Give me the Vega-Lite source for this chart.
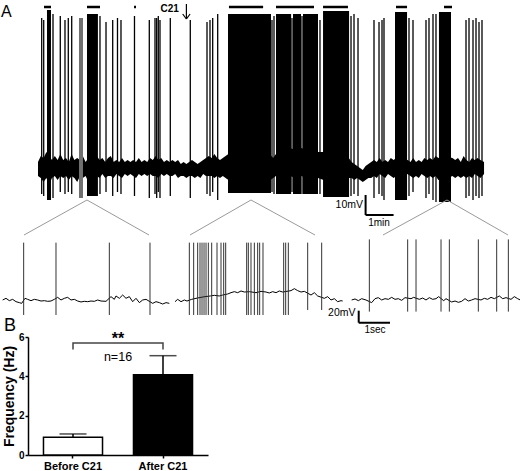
{
"$schema":"https://vega.github.io/schema/vega-lite/v6.json",
"padding":0,
"background":"white",
"bounds":"flush",
"spacing":0,
"config":{"view":{"stroke":null},"font":"Liberation Sans"},
"datasets":{
"noise":[{"t":0,"v":3,"v2":-4},{"t":0.1,"v":6,"v2":-5},{"t":0.2,"v":5,"v2":-7},{"t":0.3,"v":8,"v2":-5},{"t":0.4,"v":6,"v2":-8},{"t":0.5,"v":4,"v2":-5},{"t":0.6,"v":6,"v2":-4},{"t":0.7,"v":4,"v2":-6},{"t":0.8,"v":7,"v2":-4},{"t":0.9,"v":4,"v2":-5},{"t":1.0,"v":5,"v2":-4},{"t":1.1,"v":3,"v2":-6},{"t":1.2,"v":7,"v2":-4},{"t":1.3,"v":4,"v2":-5},{"t":1.4,"v":5,"v2":-7},{"t":1.5,"v":4,"v2":-4},{"t":1.6,"v":6,"v2":-5},{"t":1.7,"v":3,"v2":-4},{"t":1.8,"v":5,"v2":-7},{"t":1.9,"v":7,"v2":-5},{"t":2.0,"v":4,"v2":-6},{"t":2.1,"v":6,"v2":-4},{"t":2.2,"v":4,"v2":-5},{"t":2.3,"v":5,"v2":-3},{"t":2.4,"v":3,"v2":-5},{"t":2.5,"v":5,"v2":-4},{"t":2.6,"v":6,"v2":-4},{"t":2.7,"v":3,"v2":-5},{"t":2.8,"v":4,"v2":-3},{"t":2.9,"v":3,"v2":-4},{"t":3.0,"v":5,"v2":-5},{"t":3.1,"v":3,"v2":-3},{"t":3.2,"v":4,"v2":-4},{"t":3.3,"v":3,"v2":-3},{"t":3.4,"v":4,"v2":-4},{"t":3.5,"v":3,"v2":-5},{"t":3.6,"v":5,"v2":-3},{"t":3.7,"v":3,"v2":-4},{"t":3.8,"v":4,"v2":-3},{"t":3.9,"v":3,"v2":-4},{"t":4.0,"v":5,"v2":-3},{"t":4.1,"v":4,"v2":-4},{"t":4.2,"v":6,"v2":-4},{"t":4.3,"v":4,"v2":-5},{"t":4.4,"v":5,"v2":-3},{"t":4.5,"v":3,"v2":-4},{"t":4.6,"v":4,"v2":-3},{"t":4.7,"v":3,"v2":-4},{"t":4.8,"v":4,"v2":-4},{"t":4.9,"v":3,"v2":-3},{"t":5.0,"v":4,"v2":-5},{"t":5.1,"v":2,"v2":-4},{"t":5.2,"v":3,"v2":-4},{"t":5.3,"v":2,"v2":-5},{"t":5.4,"v":3,"v2":-4},{"t":5.5,"v":4,"v2":-4},{"t":5.6,"v":3,"v2":-5},{"t":5.7,"v":2,"v2":-4},{"t":5.8,"v":3,"v2":-5},{"t":5.9,"v":4,"v2":-3},{"t":6.0,"v":5,"v2":-4},{"t":6.1,"v":6,"v2":-4},{"t":6.2,"v":5,"v2":-4},{"t":6.3,"v":7,"v2":-5},{"t":6.4,"v":5,"v2":-4},{"t":6.5,"v":4,"v2":-5},{"t":6.6,"v":5,"v2":-4},{"t":6.7,"v":6,"v2":-5},{"t":6.8,"v":7,"v2":-6},{"t":7.0,"v":8,"v2":-7},{"t":7.4,"v":8,"v2":-7},{"t":7.8,"v":8,"v2":-7},{"t":8.2,"v":8,"v2":-7},{"t":8.4,"v":5,"v2":-5},{"t":8.5,"v":7,"v2":-4},{"t":8.7,"v":9,"v2":-4},{"t":9.0,"v":10,"v2":-4},{"t":9.2,"v":9,"v2":-5},{"t":9.4,"v":10,"v2":-4},{"t":9.6,"v":9,"v2":-5},{"t":9.8,"v":10,"v2":-4},{"t":10.0,"v":8,"v2":-5},{"t":10.2,"v":8,"v2":-6},{"t":10.6,"v":8,"v2":-7},{"t":11.0,"v":7,"v2":-7},{"t":11.1,"v":5,"v2":-5},{"t":11.2,"v":3,"v2":-5},{"t":11.3,"v":2,"v2":-6},{"t":11.4,"v":1,"v2":-5},{"t":11.5,"v":0,"v2":-6},{"t":11.6,"v":-1,"v2":-7},{"t":11.7,"v":1,"v2":-6},{"t":11.8,"v":2,"v2":-5},{"t":11.9,"v":3,"v2":-5},{"t":12.0,"v":4,"v2":-4},{"t":12.1,"v":3,"v2":-5},{"t":12.2,"v":5,"v2":-3},{"t":12.3,"v":3,"v2":-4},{"t":12.4,"v":4,"v2":-5},{"t":12.5,"v":3,"v2":-3},{"t":12.6,"v":5,"v2":-4},{"t":12.7,"v":4,"v2":-5},{"t":12.8,"v":5,"v2":-4},{"t":13.0,"v":5,"v2":-5},{"t":13.2,"v":4,"v2":-3},{"t":13.3,"v":3,"v2":-4},{"t":13.4,"v":5,"v2":-5},{"t":13.5,"v":3,"v2":-4},{"t":13.6,"v":4,"v2":-5},{"t":13.7,"v":3,"v2":-3},{"t":13.8,"v":5,"v2":-4},{"t":13.9,"v":4,"v2":-5},{"t":14.0,"v":5,"v2":-4},{"t":14.1,"v":4,"v2":-5},{"t":14.2,"v":6,"v2":-4},{"t":14.3,"v":5,"v2":-6},{"t":14.5,"v":6,"v2":-6},{"t":14.8,"v":5,"v2":-4},{"t":14.9,"v":4,"v2":-5},{"t":15.0,"v":5,"v2":-4},{"t":15.1,"v":3,"v2":-5},{"t":15.2,"v":6,"v2":-4},{"t":15.3,"v":4,"v2":-5},{"t":15.4,"v":3,"v2":-4},{"t":15.5,"v":5,"v2":-5},{"t":15.6,"v":4,"v2":-3},{"t":15.7,"v":5,"v2":-4},{"t":15.8,"v":4,"v2":-5},{"t":15.93,"v":3,"v2":-3}],
"bursts":[{"t":0.321,"t2":0.464,"v":79,"v2":-16,"kind":"dense"},{"t":1.464,"t2":1.607,"v":75,"v2":-15,"kind":"faint"},{"t":1.75,"t2":2.14,"v":77,"v2":-14,"kind":"dense"},{"t":6.786,"t2":8.321,"v":77,"v2":-12.5,"kind":"dense"},{"t":8.5,"t2":9.04,"v":77,"v2":-13,"kind":"dense"},{"t":9.107,"t2":9.393,"v":77,"v2":-13,"kind":"dense"},{"t":9.464,"t2":10.0,"v":77,"v2":-13,"kind":"dense"},{"t":10.18,"t2":11.11,"v":78.5,"v2":-14.5,"kind":"dense"},{"t":12.75,"t2":13.18,"v":78,"v2":-16,"kind":"dense"},{"t":14.32,"t2":14.75,"v":78,"v2":-17,"kind":"dense"}],
"spikes1":[{"t":0.132,"v":75,"v2":-13},{"t":0.204,"v":74,"v2":-14},{"t":0.536,"v":77,"v2":-15},{"t":0.796,"v":76,"v2":-12},{"t":0.964,"v":74,"v2":-13},{"t":1.082,"v":75,"v2":-12},{"t":1.204,"v":76,"v2":-13},{"t":2.214,"v":76,"v2":-13},{"t":2.429,"v":73,"v2":-12},{"t":2.668,"v":74,"v2":-14},{"t":2.839,"v":75,"v2":-12},{"t":2.964,"v":74,"v2":-13},{"t":3.446,"v":76,"v2":-14},{"t":3.975,"v":74,"v2":-15},{"t":4.179,"v":75,"v2":-13},{"t":4.239,"v":75,"v2":-15},{"t":4.296,"v":76,"v2":-12},{"t":4.357,"v":74,"v2":-15},{"t":4.725,"v":75,"v2":-14},{"t":5.439,"v":74,"v2":-15},{"t":6.036,"v":73,"v2":-13},{"t":6.143,"v":74,"v2":-14},{"t":6.239,"v":75,"v2":-12},{"t":6.418,"v":77,"v2":-16},{"t":8.357,"v":74,"v2":-12},{"t":8.429,"v":76,"v2":-13},{"t":9.071,"v":75,"v2":-12},{"t":9.429,"v":76,"v2":-13},{"t":10.071,"v":74,"v2":-13},{"t":11.179,"v":76,"v2":-14},{"t":11.286,"v":77,"v2":-13},{"t":11.429,"v":75,"v2":-14},{"t":12.0,"v":74,"v2":-15},{"t":12.179,"v":73,"v2":-13},{"t":12.286,"v":74,"v2":-14},{"t":12.357,"v":75,"v2":-16},{"t":13.25,"v":75,"v2":-14},{"t":13.393,"v":74,"v2":-12},{"t":13.857,"v":74,"v2":-15},{"t":13.964,"v":75,"v2":-13},{"t":14.107,"v":77,"v2":-16},{"t":14.214,"v":77,"v2":-17},{"t":15.286,"v":74,"v2":-15},{"t":15.393,"v":75,"v2":-14},{"t":15.536,"v":74,"v2":-16},{"t":15.643,"v":75,"v2":-14},{"t":15.75,"v":73,"v2":-15},{"t":15.857,"v":74,"v2":-14}],
"topbars":[{"t":0.214,"t2":0.464,"v":80.5},{"t":1.75,"t2":2.214,"v":80.5},{"t":3.43,"t2":3.5,"v":80.5},{"t":6.82,"t2":8.04,"v":80.5},{"t":8.5,"t2":9.857,"v":80.5},{"t":10.18,"t2":11.07,"v":80.5},{"t":12.786,"t2":13.18,"v":80.5},{"t":14.5,"t2":14.786,"v":80.5}],
"lines1":[{"kind":"connector","t":-0.5,"v":-33.5,"t2":1.75,"v2":-16},{"kind":"connector","t":3.964,"v":-33.5,"t2":1.75,"v2":-16},{"kind":"connector","t":5.429,"v":-33.5,"t2":7.607,"v2":-16},{"kind":"connector","t":9.893,"v":-33.5,"t2":7.607,"v2":-16},{"kind":"connector","t":12.321,"v":-33.5,"t2":14.607,"v2":-16},{"kind":"connector","t":16.786,"v":-33.5,"t2":14.607,"v2":-16},{"kind":"scale","t":11.7,"v":-13.5,"t2":11.7,"v2":-23.5},{"kind":"scale","t":11.7,"v":-23.5,"t2":12.7,"v2":-23.5},{"kind":"arrow","t":5.3,"v":82,"t2":5.3,"v2":74.5},{"kind":"arrow","t":5.168,"v":77,"t2":5.3,"v2":74.5},{"kind":"arrow","t":5.432,"v":77,"t2":5.3,"v2":74.5}],
"labels1":[{"label":"A","t":-1.3214,"v":75.5},{"label":"C21","t":4.7,"v":78},{"label":"10mV","t":11.607,"v":-20},{"label":"1min","t":12.18,"v":-29}],
"trace2":[{"seg":1,"t":0.053,"v":0},{"seg":1,"t":0.16,"v":2.8},{"seg":1,"t":0.266,"v":-1.1},{"seg":1,"t":0.373,"v":1.1},{"seg":1,"t":0.479,"v":-2.8},{"seg":1,"t":0.586,"v":-4.4},{"seg":1,"t":0.66,"v":-5.6},{"seg":1,"t":0.767,"v":2.8},{"seg":1,"t":0.852,"v":1.1},{"seg":1,"t":0.958,"v":-1.1},{"seg":1,"t":1.065,"v":1.1},{"seg":1,"t":1.171,"v":0},{"seg":1,"t":1.278,"v":-1.7},{"seg":1,"t":1.384,"v":-1.1},{"seg":1,"t":1.491,"v":-2.2},{"seg":1,"t":1.597,"v":-1.7},{"seg":1,"t":1.704,"v":1.1},{"seg":1,"t":1.81,"v":4.4},{"seg":1,"t":1.917,"v":0},{"seg":1,"t":2.023,"v":2.8},{"seg":1,"t":2.13,"v":4.4},{"seg":1,"t":2.236,"v":0},{"seg":1,"t":2.343,"v":1.1},{"seg":1,"t":2.449,"v":-1.7},{"seg":1,"t":2.556,"v":-3.3},{"seg":1,"t":2.662,"v":-2.2},{"seg":1,"t":2.769,"v":-2.8},{"seg":1,"t":2.875,"v":-1.7},{"seg":1,"t":2.982,"v":-2.2},{"seg":1,"t":3.088,"v":0},{"seg":1,"t":3.195,"v":-1.7},{"seg":1,"t":3.355,"v":-2.2},{"seg":1,"t":3.514,"v":5.6},{"seg":1,"t":3.621,"v":1.1},{"seg":1,"t":3.674,"v":6.7},{"seg":1,"t":3.781,"v":2.8},{"seg":1,"t":3.887,"v":8.3},{"seg":1,"t":3.994,"v":2.8},{"seg":1,"t":4.1,"v":5.6},{"seg":1,"t":4.207,"v":-2.8},{"seg":1,"t":4.313,"v":2.8},{"seg":1,"t":4.42,"v":-4.4},{"seg":1,"t":4.526,"v":0},{"seg":1,"t":4.633,"v":1.1},{"seg":1,"t":4.846,"v":-5.6},{"seg":1,"t":4.952,"v":-2.8},{"seg":1,"t":5.059,"v":-4.4},{"seg":1,"t":5.165,"v":-6.7},{"seg":1,"t":5.272,"v":-4.4},{"seg":1,"t":5.378,"v":-5.6},
{"seg":2,"t":5.559,"v":-2.8},{"seg":2,"t":5.644,"v":1.1},{"seg":2,"t":5.751,"v":-2.8},{"seg":2,"t":5.857,"v":0},{"seg":2,"t":5.942,"v":-1.7},{"seg":2,"t":6.092,"v":1.1},{"seg":2,"t":6.23,"v":2.8},{"seg":2,"t":6.39,"v":4.4},{"seg":2,"t":6.518,"v":5.6},{"seg":2,"t":6.688,"v":6.7},{"seg":2,"t":6.816,"v":7.8},{"seg":2,"t":6.975,"v":6.7},{"seg":2,"t":7.082,"v":8.3},{"seg":2,"t":7.242,"v":10},{"seg":2,"t":7.348,"v":12.2},{"seg":2,"t":7.455,"v":13.9},{"seg":2,"t":7.561,"v":12.2},{"seg":2,"t":7.668,"v":15},{"seg":2,"t":7.774,"v":13.3},{"seg":2,"t":7.934,"v":13.9},{"seg":2,"t":8.147,"v":12.2},{"seg":2,"t":8.307,"v":14.4},{"seg":2,"t":8.467,"v":13.3},{"seg":2,"t":8.573,"v":11.7},{"seg":2,"t":8.679,"v":13.9},{"seg":2,"t":8.786,"v":12.2},{"seg":2,"t":8.892,"v":15},{"seg":2,"t":8.999,"v":13.3},{"seg":2,"t":9.265,"v":15.6},{"seg":2,"t":9.372,"v":18.9},{"seg":2,"t":9.478,"v":15.6},{"seg":2,"t":9.585,"v":13.3},{"seg":2,"t":9.691,"v":14.4},{"seg":2,"t":9.904,"v":8.3},{"seg":2,"t":10.011,"v":12.2},{"seg":2,"t":10.117,"v":6.7},{"seg":2,"t":10.33,"v":2.8},{"seg":2,"t":10.437,"v":5.6},{"seg":2,"t":10.543,"v":0},{"seg":2,"t":10.65,"v":2.2},{"seg":2,"t":10.756,"v":-2.8},{"seg":2,"t":10.863,"v":-1.1},{"seg":2,"t":10.916,"v":-1.7},
{"seg":3,"t":11.203,"v":0},{"seg":3,"t":11.31,"v":1.7},{"seg":3,"t":11.416,"v":-1.1},{"seg":3,"t":11.523,"v":2.2},{"seg":3,"t":11.661,"v":0},{"seg":3,"t":11.842,"v":-4.4},{"seg":3,"t":11.949,"v":2.2},{"seg":3,"t":12.055,"v":3.9},{"seg":3,"t":12.162,"v":0},{"seg":3,"t":12.268,"v":2.2},{"seg":3,"t":12.375,"v":1.1},{"seg":3,"t":12.482,"v":4.4},{"seg":3,"t":12.588,"v":1.1},{"seg":3,"t":12.694,"v":2.2},{"seg":3,"t":12.801,"v":-0.6},{"seg":3,"t":12.907,"v":3.9},{"seg":3,"t":13.099,"v":2.2},{"seg":3,"t":13.184,"v":4.4},{"seg":3,"t":13.365,"v":1.1},{"seg":3,"t":13.472,"v":3.3},{"seg":3,"t":13.578,"v":0},{"seg":3,"t":13.685,"v":3.9},{"seg":3,"t":13.791,"v":1.1},{"seg":3,"t":13.898,"v":2.2},{"seg":3,"t":13.983,"v":5.6},{"seg":3,"t":14.143,"v":-1.1},{"seg":3,"t":14.217,"v":2.2},{"seg":3,"t":14.398,"v":-3.3},{"seg":3,"t":14.505,"v":-1.7},{"seg":3,"t":14.611,"v":-3.9},{"seg":3,"t":14.718,"v":-2.2},{"seg":3,"t":14.824,"v":2.2},{"seg":3,"t":14.931,"v":-1.7},{"seg":3,"t":15.037,"v":0},{"seg":3,"t":15.144,"v":2.2},{"seg":3,"t":15.335,"v":0},{"seg":3,"t":15.442,"v":2.8},{"seg":3,"t":15.548,"v":1.1},{"seg":3,"t":15.655,"v":4.4},{"seg":3,"t":15.761,"v":2.2},{"seg":3,"t":15.921,"v":6.7},{"seg":3,"t":16.028,"v":2.2},{"seg":3,"t":16.134,"v":3.9},{"seg":3,"t":16.294,"v":1.1},{"seg":3,"t":16.4,"v":5.6},{"seg":3,"t":16.507,"v":2.2},{"seg":3,"t":16.592,"v":0}],
"spikes2":[{"t":0.724,"v":95.6,"v2":-25},{"t":1.757,"v":95.6,"v2":-25},{"t":3.461,"v":95.6,"v2":-25},{"t":4.76,"v":95.6,"v2":-25},{"t":6.017,"v":95.6,"v2":-25},{"t":6.155,"v":95.6,"v2":-25},{"t":6.283,"v":95.6,"v2":-25},{"t":6.358,"v":95.6,"v2":-25},{"t":6.422,"v":95.6,"v2":-25},{"t":6.486,"v":95.6,"v2":-25},{"t":6.55,"v":95.6,"v2":-25},{"t":6.624,"v":95.6,"v2":-25},{"t":6.731,"v":95.6,"v2":-25},{"t":6.901,"v":95.6,"v2":-25},{"t":7.029,"v":95.6,"v2":-25},{"t":7.114,"v":95.6,"v2":-25},{"t":7.178,"v":95.6,"v2":-25},{"t":7.849,"v":95.6,"v2":-25},{"t":7.902,"v":95.6,"v2":-25},{"t":7.987,"v":95.6,"v2":-25},{"t":8.094,"v":95.6,"v2":-25},{"t":8.2,"v":95.6,"v2":-25},{"t":8.264,"v":95.6,"v2":-25},{"t":8.37,"v":95.6,"v2":-25},{"t":9.031,"v":95.6,"v2":-25},{"t":9.095,"v":95.6,"v2":-25},{"t":9.18,"v":95.6,"v2":-25},{"t":9.798,"v":95.6,"v2":-16.7},{"t":10.245,"v":95.6,"v2":-16.7},{"t":11.768,"v":101,"v2":-19.4},{"t":12.992,"v":101,"v2":-19.4},{"t":13.259,"v":101,"v2":-19.4},{"t":14.058,"v":101,"v2":-19.4},{"t":14.324,"v":101,"v2":-19.4},{"t":15.25,"v":101,"v2":-19.4},{"t":15.836,"v":101,"v2":-19.4},{"t":16.209,"v":101,"v2":-19.4}],
"lines2":[{"t":11.428,"v":-17.8,"t2":11.428,"v2":-37.8},{"t":11.428,"v":-37.8,"t2":12.428,"v2":-37.8}],
"labels2":[{"label":"20mV","t":11.326,"v":-27.5},{"label":"1sec","t":11.95,"v":-55},{"label":"B","t":0.096,"v":-51.7}],
"freq":[{"cond":"Before C21","mean":0.9,"upper":1.07},{"cond":"After C21","mean":4.08,"upper":5.05}],
"bracket":[{"pos":0.5,"y":5.36,"i":0},{"pos":0.5,"y":5.7,"i":1},{"pos":1.5,"y":5.7,"i":2},{"pos":1.5,"y":5.36,"i":3}],
"notes":[{"label":"**","pos":1,"y":5.64},{"label":"n=16","pos":1,"y":4.8}]
},
"vconcat":[
{
 "width":493,"height":235,
 "encoding":{
  "x":{"field":"t","type":"quantitative","scale":{"domain":[-0.357,17.25],"nice":false,"zero":false},"axis":null},
  "y":{"field":"v","type":"quantitative","scale":{"domain":[-33.5,84],"nice":false,"zero":false},"axis":null}
 },
 "layer":[
  {"data":{"name":"noise"},"mark":{"type":"area","color":"black"},"encoding":{"y2":{"field":"v2"}}},
  {"data":{"name":"bursts"},"mark":{"type":"rect"},"encoding":{"x2":{"field":"t2"},"y2":{"field":"v2"},"color":{"field":"kind","type":"nominal","scale":{"domain":["dense","faint"],"range":["#000000","#707070"]},"legend":null}}},
  {"data":{"name":"spikes1"},"mark":{"type":"rule","color":"black","strokeWidth":1.3},"encoding":{"y2":{"field":"v2"}}},
  {"data":{"name":"topbars"},"mark":{"type":"rule","color":"black","strokeWidth":2.5},"encoding":{"x2":{"field":"t2"}}},
  {"data":{"name":"lines1"},"transform":[{"filter":"datum.kind == 'connector'"}],"mark":{"type":"rule","color":"#9a9a9a","strokeWidth":1},"encoding":{"x2":{"field":"t2"},"y2":{"field":"v2"}}},
  {"data":{"name":"lines1"},"transform":[{"filter":"datum.kind == 'scale'"}],"mark":{"type":"rule","color":"black","strokeWidth":2},"encoding":{"x2":{"field":"t2"},"y2":{"field":"v2"}}},
  {"data":{"name":"lines1"},"transform":[{"filter":"datum.kind == 'arrow'"}],"mark":{"type":"rule","color":"black","strokeWidth":1.2},"encoding":{"x2":{"field":"t2"},"y2":{"field":"v2"}}},
  {"data":{"name":"labels1"},"transform":[{"filter":"datum.label == 'A'"}],"mark":{"type":"text","align":"left","baseline":"alphabetic","fontSize":16,"color":"black"},"encoding":{"text":{"field":"label"}}},
  {"data":{"name":"labels1"},"transform":[{"filter":"datum.label == 'C21'"}],"mark":{"type":"text","align":"center","baseline":"alphabetic","fontSize":10,"fontWeight":"bold","color":"black"},"encoding":{"text":{"field":"label"}}},
  {"data":{"name":"labels1"},"transform":[{"filter":"datum.label == '10mV'"}],"mark":{"type":"text","align":"right","baseline":"alphabetic","fontSize":10.5,"color":"black"},"encoding":{"text":{"field":"label"}}},
  {"data":{"name":"labels1"},"transform":[{"filter":"datum.label == '1min'"}],"mark":{"type":"text","align":"center","baseline":"alphabetic","fontSize":10,"color":"black"},"encoding":{"text":{"field":"label"}}}
 ]
},
{
 "width":493,"height":102,
 "encoding":{
  "x":{"field":"t","type":"quantitative","scale":{"domain":[0.8626,16.613],"nice":false,"zero":false},"axis":null},
  "y":{"field":"v","type":"quantitative","scale":{"domain":[-61.67,108.33],"nice":false,"zero":false},"axis":null}
 },
 "layer":[
  {"data":{"name":"trace2"},"mark":{"type":"line","color":"black","strokeWidth":1},"encoding":{"detail":{"field":"seg","type":"nominal"}}},
  {"data":{"name":"spikes2"},"mark":{"type":"rule","color":"#333333","strokeWidth":1},"encoding":{"y2":{"field":"v2"}}},
  {"data":{"name":"lines2"},"mark":{"type":"rule","color":"black","strokeWidth":2},"encoding":{"x2":{"field":"t2"},"y2":{"field":"v2"}}},
  {"data":{"name":"labels2"},"transform":[{"filter":"datum.label == '20mV'"}],"mark":{"type":"text","align":"right","baseline":"alphabetic","fontSize":10.5,"color":"black"},"encoding":{"text":{"field":"label"}}},
  {"data":{"name":"labels2"},"transform":[{"filter":"datum.label == '1sec'"}],"mark":{"type":"text","align":"center","baseline":"alphabetic","fontSize":10,"color":"black"},"encoding":{"text":{"field":"label"}}},
  {"data":{"name":"labels2"},"transform":[{"filter":"datum.label == 'B'"}],"mark":{"type":"text","align":"left","baseline":"alphabetic","fontSize":18,"color":"black"},"encoding":{"text":{"field":"label"}}}
 ]
},
{
 "width":180,"height":118,
 "layer":[
  {
   "data":{"name":"freq"},
   "encoding":{
    "x":{"field":"cond","type":"nominal","sort":["Before C21","After C21"],"scale":{"paddingInner":0.344,"paddingOuter":0.172},"axis":{"title":null,"labelAngle":0,"tickSize":3,"labelPadding":2,"labelFontSize":11,"labelFontWeight":"bold","labelColor":"black","domainColor":"black","domainWidth":1.5,"tickColor":"black","tickWidth":1.5}},
    "y":{"field":"mean","type":"quantitative","title":"Frequency (Hz)","scale":{"domain":[0,6],"nice":false},"axis":{"values":[0,2,4,6],"tickCount":4,"grid":false,"labelOverlap":false,"labelBound":false,"labelFlush":false,"tickSize":3,"labelPadding":1,"labelFontSize":10,"labelFontWeight":"bold","labelColor":"black","domainColor":"black","domainWidth":1.5,"tickColor":"black","tickWidth":1.5,"titleFontSize":14,"titleFontWeight":"bold","titleColor":"black","titlePadding":2}}
   },
   "layer":[
    {"mark":{"type":"bar","stroke":"black","strokeWidth":1.5},"encoding":{"fill":{"field":"cond","type":"nominal","scale":{"domain":["Before C21","After C21"],"range":["white","black"]},"legend":null}}},
    {"mark":{"type":"rule","color":"black","strokeWidth":1.5},"encoding":{"y2":{"field":"upper"}}},
    {"mark":{"type":"tick","color":"black","thickness":1.5,"size":27},"encoding":{"y":{"field":"upper","type":"quantitative","title":"Frequency (Hz)","scale":{"domain":[0,6],"nice":false},"axis":{"values":[0,2,4,6],"tickCount":4,"grid":false,"labelOverlap":false,"labelBound":false,"labelFlush":false,"tickSize":3,"labelPadding":1,"labelFontSize":10,"labelFontWeight":"bold","labelColor":"black","domainColor":"black","domainWidth":1.5,"tickColor":"black","tickWidth":1.5,"titleFontSize":14,"titleFontWeight":"bold","titleColor":"black","titlePadding":2}}}}
   ]
  },
  {
   "encoding":{
    "x":{"field":"pos","type":"quantitative","scale":{"domain":[0,2],"nice":false,"zero":false},"axis":null},
    "y":{"field":"y","type":"quantitative","title":"Frequency (Hz)","scale":{"domain":[0,6],"nice":false},"axis":{"values":[0,2,4,6],"tickCount":4,"grid":false,"labelOverlap":false,"labelBound":false,"labelFlush":false,"tickSize":3,"labelPadding":1,"labelFontSize":10,"labelFontWeight":"bold","labelColor":"black","domainColor":"black","domainWidth":1.5,"tickColor":"black","tickWidth":1.5,"titleFontSize":14,"titleFontWeight":"bold","titleColor":"black","titlePadding":2}}
   },
   "layer":[
    {"data":{"name":"bracket"},"mark":{"type":"line","color":"#444444","strokeWidth":1.5},"encoding":{"order":{"field":"i"}}},
    {"data":{"name":"notes"},"transform":[{"filter":"datum.label == '**'"}],"mark":{"type":"text","align":"center","baseline":"alphabetic","fontSize":16,"fontWeight":"bold","color":"black"},"encoding":{"text":{"field":"label"}}},
    {"data":{"name":"notes"},"transform":[{"filter":"datum.label == 'n=16'"}],"mark":{"type":"text","align":"center","baseline":"alphabetic","fontSize":12.5,"color":"black"},"encoding":{"text":{"field":"label"}}}
   ]
  }
 ],
 "resolve":{"scale":{"x":"independent"}}
}
]
}
